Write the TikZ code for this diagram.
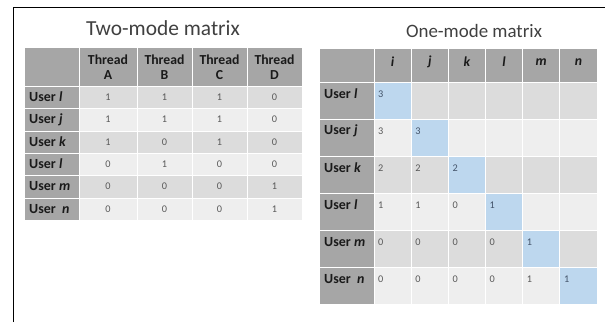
\documentclass[tikz,border=0pt]{standalone}
\usepackage{fontspec}
\setmainfont{Carlito}
\definecolor{hdr}{HTML}{A6A6A6}
\definecolor{rowA}{HTML}{DCDCDC}
\definecolor{rowB}{HTML}{EEEEEE}
\definecolor{diag}{HTML}{BDD7EE}
\definecolor{numc}{HTML}{595959}
\definecolor{diagnum}{HTML}{44546A}
\definecolor{titlec}{HTML}{404040}
\definecolor{labc}{HTML}{1A1A1A}
\begin{document}
\begin{tikzpicture}[x=1bp,y=-1bp,
  cellbox/.style={draw=white,line width=0.9bp},
  titletext/.style={inner sep=0pt,text=titlec},
  labtext/.style={inner sep=0pt,anchor=west,text=labc,font=\fontsize{14}{15}\selectfont\bfseries},
  hdrtext/.style={inner sep=0pt,text=labc,align=center,font=\fontsize{13.8}{15}\selectfont\bfseries},
  numtext/.style={inner sep=0pt,text=numc,font=\fontsize{10.3}{11}\selectfont},
  dnumtext/.style={inner sep=0pt,text=diagnum,font=\fontsize{10.3}{11}\selectfont}]
\useasboundingbox (0,0) rectangle (605,322);
\draw[line width=1bp] (13,322) -- (13,7) -- (605,7);

% ---------- Two-mode matrix ----------
\node[titletext,font=\fontsize{21.5}{24}\selectfont] (title2) at (163,28) {Two-mode matrix};
\fill[hdr,cellbox] (24,47) rectangle (79,86);
\foreach \xa/\xb in {79/137,137/192,192/247,247/302}
  \fill[hdr,cellbox] (\xa,47) rectangle (\xb,86);
\foreach \ya/\yb/\c in {86/108/rowA,108/131/rowB,131/153/rowA,153/175/rowB,175/198/rowA,198/220/rowB}{
  \fill[hdr,cellbox] (24,\ya) rectangle (79,\yb);
  \foreach \xa/\xb in {79/137,137/192,192/247,247/302}
    \fill[\c,cellbox] (\xa,\ya) rectangle (\xb,\yb);
}
\foreach \l/\x in {A/108,B/164.5,C/219.5,D/274.5}
  \node[hdrtext] (th\l) at (\x,67) {Thread\\\l};
\foreach \lab/\y [count=\r] in {{User \textit{l}}/97,{User \textit{j}}/119.5,{User \textit{k}}/142,{User \textit{l}}/164,{User \textit{m}}/186.5,{User\ \ \textit{n}}/209}
  \node[labtext] (tl\r) at (29,\y) {\lab};
\foreach \vals/\y [count=\r] in {{1,1,1,0}/97,{1,1,1,0}/119.5,{1,0,1,0}/142,{0,1,0,0}/164,{0,0,0,1}/186.5,{0,0,0,1}/209}{
  \foreach \v [count=\c] in \vals {
    \pgfmathsetmacro\xx{{108,164.5,219.5,274.5}[\c-1]}
    \node[numtext] (tv\r-\c) at (\xx,\y) {\v};
  }
}

% ---------- One-mode matrix ----------
\node[titletext,font=\fontsize{19}{22}\selectfont] (title1) at (474,31) {One-mode matrix};
\fill[hdr,cellbox] (319,48) rectangle (374,82);
\foreach \c in {1,...,6}
  \fill[hdr,cellbox] ({374+37.17*(\c-1)},48) rectangle ({374+37.17*\c},82);
\foreach \r in {1,...,6}{
  \pgfmathsetmacro\ya{82+37*(\r-1)}
  \pgfmathsetmacro\yb{82+37*\r}
  \fill[hdr,cellbox] (319,\ya) rectangle (374,\yb);
  \pgfmathtruncatemacro\odd{mod(\r,2)}
  \foreach \c in {1,...,6}{
    \ifnum\c=\r
      \fill[diag,cellbox] ({374+37.17*(\c-1)},\ya) rectangle ({374+37.17*\c},\yb);
    \else
      \ifnum\odd=1
        \fill[rowA,cellbox] ({374+37.17*(\c-1)},\ya) rectangle ({374+37.17*\c},\yb);
      \else
        \fill[rowB,cellbox] ({374+37.17*(\c-1)},\ya) rectangle ({374+37.17*\c},\yb);
      \fi
    \fi
  }
}
\foreach \l [count=\c] in {i,j,k,l,m,n}
  \node[hdrtext] (oh\c) at ({374+37.17*(\c-0.5)},62) {\textit{\l}};
\foreach \lab [count=\r] in {{User \textit{l}},{User \textit{j}},{User \textit{k}},{User \textit{l}},{User \textit{m}},{User\ \ \textit{n}}}
  \node[labtext] (ol\r) at (324,{82+37*(\r-1)+12}) {\lab};
\foreach \vals [count=\r] in {{3},{3,3},{2,2,2},{1,1,0,1},{0,0,0,0,1},{0,0,0,0,1,1}}{
  \foreach \v [count=\c] in \vals {
    \ifnum\c=\r
      \node[dnumtext,anchor=west] (ov\r-\c) at ({374+37.17*(\c-1)+4},{82+37*(\r-1)+12}) {\v};
    \else
      \node[numtext,anchor=west] (ov\r-\c) at ({374+37.17*(\c-1)+4},{82+37*(\r-1)+12}) {\v};
    \fi
  }
}
\end{tikzpicture}
\end{document}
